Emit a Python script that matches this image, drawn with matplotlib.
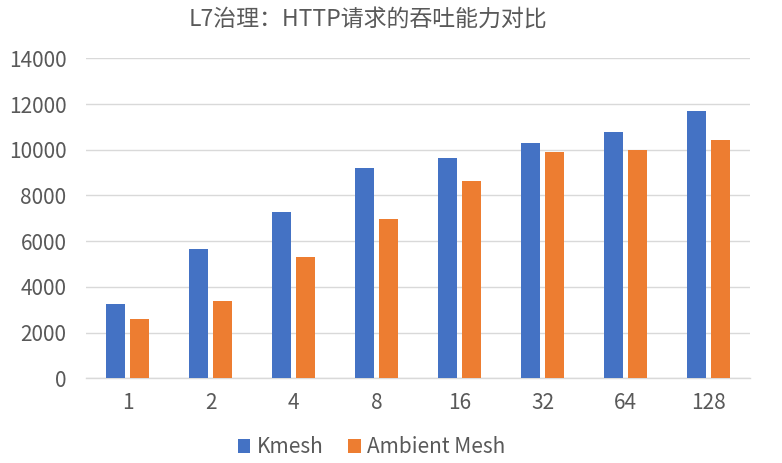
import matplotlib
matplotlib.use("Agg")
import matplotlib.pyplot as plt
import numpy as np

plt.rcParams['font.family'] = ['Noto Sans CJK SC', 'DejaVu Sans']

# data
categories = ["1", "2", "4", "8", "16", "32", "64", "128"]
kmesh = [3250, 5660, 7280, 9200, 9640, 10290, 10780, 11690]
ambient = [2600, 3380, 5310, 6970, 8630, 9900, 9990, 10430]
series_names = ["Kmesh", "Ambient Mesh"]

BLUE = "#4472C4"
ORANGE = "#ED7D31"
GREY_TEXT = "#595959"
GRID = "#D9D9D9"

fig = plt.figure(figsize=(7.82, 4.63), dpi=100)
ax = fig.add_axes([0.110, 0.183, 0.849, 0.691])

x = np.arange(len(categories))
w = 0.23
off = 0.142
ax.bar(x - off, kmesh, width=w, color=BLUE, label=series_names[0], zorder=3)
ax.bar(x + off, ambient, width=w, color=ORANGE, label=series_names[1], zorder=3)

ax.set_xlim(-0.5, len(categories) - 0.5)
ax.set_ylim(0, 14000)
ax.set_yticks(np.arange(0, 14001, 2000))
ax.set_xticks(x)
ax.set_xticklabels(categories)

ax.grid(axis="y", color=GRID, linewidth=1, zorder=0)
for side in ["top", "right", "left"]:
    ax.spines[side].set_visible(False)
ax.spines["bottom"].set_color(GRID)
ax.spines["bottom"].set_linewidth(1)
ax.tick_params(axis="both", length=0, labelsize=15, labelcolor=GREY_TEXT)
ax.tick_params(axis="y", pad=14)
ax.tick_params(axis="x", pad=10)

fig.text(0.471, 0.957, "L7治理：HTTP请求的吞吐能力对比", ha="center", va="center",
         fontsize=16.5, color=GREY_TEXT)

leg = fig.legend(loc="center", bbox_to_anchor=(0.475, 0.034), ncol=2, frameon=False,
                 fontsize=15, handlelength=0.6, handleheight=0.6, handletextpad=0.3,
                 columnspacing=1.2)
for t in leg.get_texts():
    t.set_color(GREY_TEXT)

fig.savefig("out.png", dpi=100)
